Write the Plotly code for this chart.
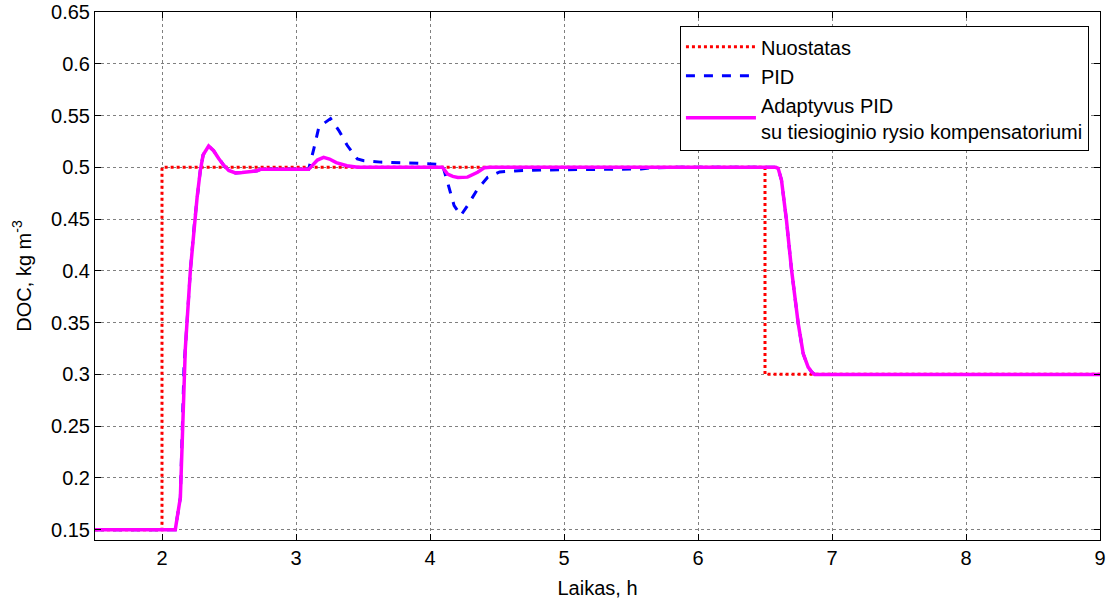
import plotly.graph_objects as go

# Setpoint (Nuostatas)
sp_t = [1.5, 2.0, 2.0, 6.5, 6.5, 9.0]
sp_v = [0.15, 0.15, 0.5, 0.5, 0.3, 0.3]

# Adaptive PID with feed-forward compensator
ad_t = [1.5, 2.099, 2.137, 2.165, 2.174, 2.212, 2.244, 2.262, 2.286, 2.307, 2.348,
        2.385, 2.423, 2.46, 2.498, 2.548, 2.598, 2.65, 2.71, 2.735, 3.094,
        3.16, 3.206, 3.25, 3.30, 3.38, 3.46, 4.093, 4.131, 4.17, 4.208, 4.28,
        4.355, 4.405, 4.45, 6.58, 6.598, 6.623, 6.66, 6.698, 6.748, 6.785,
        6.822, 6.85, 6.872, 9.0]
ad_v = [0.15, 0.15, 0.181, 0.31, 0.325, 0.401, 0.449, 0.471, 0.497, 0.512, 0.5205,
        0.516, 0.5085, 0.502, 0.497, 0.4945, 0.495, 0.4958, 0.4966, 0.498, 0.498,
        0.507, 0.5096, 0.508, 0.5045, 0.5015, 0.5, 0.5, 0.4935, 0.4912, 0.4902, 0.4905,
        0.4952, 0.4995, 0.5, 0.5, 0.499, 0.4876, 0.449, 0.401, 0.349, 0.32,
        0.307, 0.302, 0.2998, 0.2998]

# Conventional PID
pid_t = [1.5, 2.099, 2.137, 2.165, 2.174, 2.212, 2.244, 2.262, 2.286, 2.307, 2.348,
         2.385, 2.423, 2.46, 2.498, 2.548, 2.598, 2.65, 2.71, 2.735, 3.094,
         3.133, 3.171, 3.258, 3.32, 3.383, 3.458, 3.507, 3.632, 3.98, 4.093,
         4.131, 4.18, 4.23, 4.28, 4.355, 4.43, 4.52, 4.63, 4.83, 5.575, 5.65, 5.8,
         6.58, 6.598, 6.623, 6.66, 6.698, 6.748, 6.785, 6.822, 6.85, 6.872, 9.0]
pid_v = [0.15, 0.15, 0.181, 0.31, 0.325, 0.401, 0.449, 0.471, 0.497, 0.512, 0.5205,
         0.516, 0.5085, 0.502, 0.497, 0.4945, 0.495, 0.4958, 0.4966, 0.498, 0.498,
         0.5178, 0.539, 0.547, 0.5355, 0.521, 0.508, 0.5064, 0.505, 0.5035, 0.5025,
         0.4855, 0.463, 0.4535, 0.463, 0.479, 0.4903, 0.4955, 0.4965, 0.4974, 0.4984, 0.4995, 0.5,
         0.5, 0.499, 0.4876, 0.449, 0.401, 0.349, 0.32, 0.307, 0.302, 0.2998, 0.2998]

x_ticks = [2, 3, 4, 5, 6, 7, 8, 9]
y_ticks = [0.15, 0.2, 0.25, 0.3, 0.35, 0.4, 0.45, 0.5, 0.55, 0.6, 0.65]
y_labels = ["0.15", "0.2", "0.25", "0.3", "0.35", "0.4", "0.45", "0.5", "0.55", "0.6", "0.65"]

FONT = "Liberation Sans, Arial, sans-serif"

fig = go.Figure()
fig.add_trace(go.Scatter(x=sp_t, y=sp_v, mode="lines", name="Nuostatas",
                         line=dict(color="#ff0000", width=3, dash="dot")))
fig.add_trace(go.Scatter(x=pid_t, y=pid_v, mode="lines", name="PID",
                         line=dict(color="#0000ff", width=3, dash="dash")))
fig.add_trace(go.Scatter(x=ad_t, y=ad_v, mode="lines",
                         name="Adaptyvus PID<br>su tiesioginio rysio kompensatoriumi",
                         line=dict(color="#ff00ff", width=3.5)))

axis_common = dict(showline=True, linecolor="black", linewidth=1, mirror="allticks",
                   ticks="inside", ticklen=6, tickcolor="black", automargin=False,
                   showgrid=True, gridcolor="#808080", griddash="dot", gridwidth=1,
                   zeroline=False, tickfont=dict(size=20, color="black", family=FONT))

fig.update_xaxes(range=[1.5, 9], tickvals=x_ticks, title=dict(text="Laikas, h", standoff=12,
                 font=dict(size=20, color="black", family=FONT)), **axis_common)
fig.update_yaxes(range=[0.14, 0.65], tickvals=y_ticks, ticktext=y_labels,
                 title=dict(text="DOC, kg m<sup>-3</sup>", standoff=14,
                            font=dict(size=20, color="black", family=FONT)), **axis_common)

fig.update_layout(
    width=1107, height=599,
    margin=dict(l=95, r=7, t=12, b=59),
    paper_bgcolor="white", plot_bgcolor="white",
    font=dict(family=FONT, size=20, color="black"),
    showlegend=True,
    legend=dict(x=0.989, y=0.973, xanchor="right", yanchor="top",
                bgcolor="white", bordercolor="black", borderwidth=1,
                font=dict(size=20, color="black", family=FONT),
                itemwidth=70, tracegroupgap=0),
)

fig.write_html("out.html")
